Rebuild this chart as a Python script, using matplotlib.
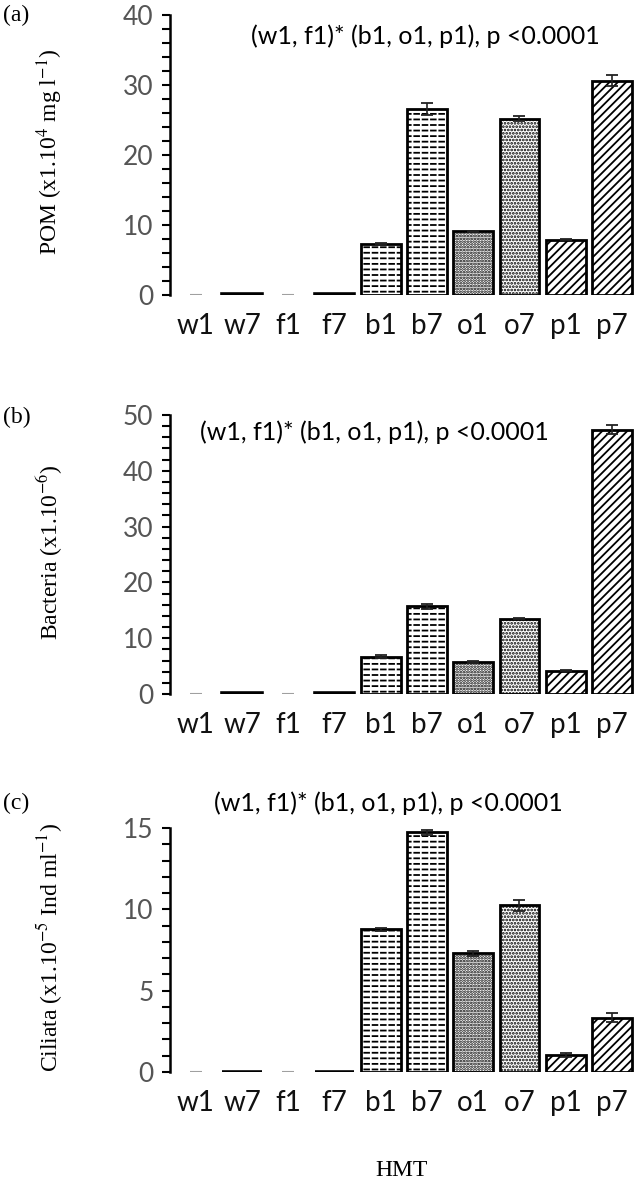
import matplotlib
matplotlib.use("Agg")
import matplotlib.pyplot as plt
from matplotlib.ticker import MultipleLocator

groups = ["w1", "w7", "f1", "f7", "b1", "b7", "o1", "o7", "p1", "p7"]

pom = [0, 0.1, 0, 0.1, 7.3, 26.6, 9.1, 25.2, 7.9, 30.6]
pom_err = [0, 0, 0, 0, 0.1, 0.9, 0.1, 0.4, 0.1, 0.8]

bacteria = [0, 0.1, 0, 0.1, 6.7, 15.7, 5.8, 13.5, 4.2, 47.4]
bacteria_err = [0, 0, 0, 0, 0.3, 0.5, 0.2, 0.1, 0.1, 0.8]

ciliata = [0, 0.03, 0, 0.03, 8.78, 14.73, 7.31, 10.24, 1.02, 3.33]
ciliata_err = [0, 0, 0, 0, 0.1, 0.15, 0.15, 0.35, 0.12, 0.28]

stat_text = "(w1, f1)* (b1, o1, p1), p <0.0001"

# "zero" = gray dash, "line" = black baseline, else hatch pattern
hatches = ["zero", "line", "zero", "line", "---", "---", "......", ".....", "////", "////"]

SANS = "Lato"
SERIF = "Liberation Serif"
plt.rcParams["mathtext.fontset"] = "stix"

fig = plt.figure(figsize=(6.43, 11.81), dpi=100)
W, H = 643, 1181


def px_axes(left, top, right, bottom):
    return fig.add_axes([left / W, 1 - bottom / H, (right - left) / W, (bottom - top) / H])


def draw_panel(ax, vals, errs, ymax, major, minor, ylabel, tag, txt_xy):
    x = list(range(len(groups)))
    plt.rcParams["hatch.linewidth"] = 1.3
    for i, (v, e, h) in enumerate(zip(vals, errs, hatches)):
        if h == "zero":
            ax.bar(i, v, width=0.26, color="none", edgecolor="#a0a0a0", linewidth=1.5)
        elif h == "line":
            ax.bar(i, v, width=0.86, color="black", edgecolor="black", linewidth=2.6)
        elif h.startswith("-"):
            ax.bar(i, v, width=0.86, color="white", edgecolor="black", hatch=h, linewidth=0)
            # break the lines into dashes
            ax.bar(i, v, width=0.86, color="none", edgecolor="white", hatch="||", linewidth=0)
            ax.bar(i, v, width=0.86, color="none", edgecolor="black", linewidth=2)
        else:
            ax.bar(i, v, width=0.86, color="white", edgecolor="black", hatch=h, linewidth=2)
        if e > 0:
            ax.errorbar(i, v, yerr=e, fmt="none", ecolor="#222222", elinewidth=1.2,
                        capsize=4, capthick=1.3)

    ax.set_xlim(-0.56, 9.5)
    ax.set_ylim(0, ymax)
    ax.yaxis.set_major_locator(MultipleLocator(major))
    ax.yaxis.set_minor_locator(MultipleLocator(minor))
    for s in ["top", "right", "bottom"]:
        ax.spines[s].set_visible(False)
    ax.spines["left"].set_linewidth(1.8)
    ax.tick_params(axis="y", which="both", direction="out", length=6, width=1.5,
                   labelsize=19, labelcolor="#555555", pad=6)
    ax.tick_params(axis="x", length=0, labelsize=20, pad=13, labelcolor="#111111")
    ax.set_xticks(x)
    ax.set_xticklabels(groups)
    for lab in ax.get_xticklabels() + ax.get_yticklabels():
        lab.set_family(SANS)
    ax.set_ylabel(ylabel, family=SERIF, fontsize=17)
    ax.yaxis.set_label_coords(-0.225, 0.51)
    ax.text(txt_xy[0], txt_xy[1], stat_text, transform=ax.transAxes, ha="center",
            va="center", family=SANS, fontsize=18, color="black")
    ax.text(-0.33, txt_xy[2], tag, transform=ax.transAxes, family=SERIF, fontsize=17,
            ha="center", va="center")


ax1 = px_axes(170, 15, 635, 295)
draw_panel(ax1, pom, pom_err, 40, 10, 2, r"POM (x1.10$^{4}$ mg l$^{-1}$)", "(a)",
           (0.55, 0.925, 1.0))

ax2 = px_axes(170, 415, 635, 694)
draw_panel(ax2, bacteria, bacteria_err, 50, 10, 2, r"Bacteria (x1.10$^{-6}$)", "(b)",
           (0.44, 0.94, 0.99))

ax3 = px_axes(170, 828, 635, 1072)
draw_panel(ax3, ciliata, ciliata_err, 15, 5, 1, r"Ciliata (x1.10$^{-5}$ Ind ml$^{-1}$)", "(c)",
           (0.47, 1.10, 1.10))

fig.text(402 / W, 1 - 1170 / H, "HMT", family=SERIF, fontsize=17, ha="center", va="center")

fig.savefig("out.png", dpi=100)
